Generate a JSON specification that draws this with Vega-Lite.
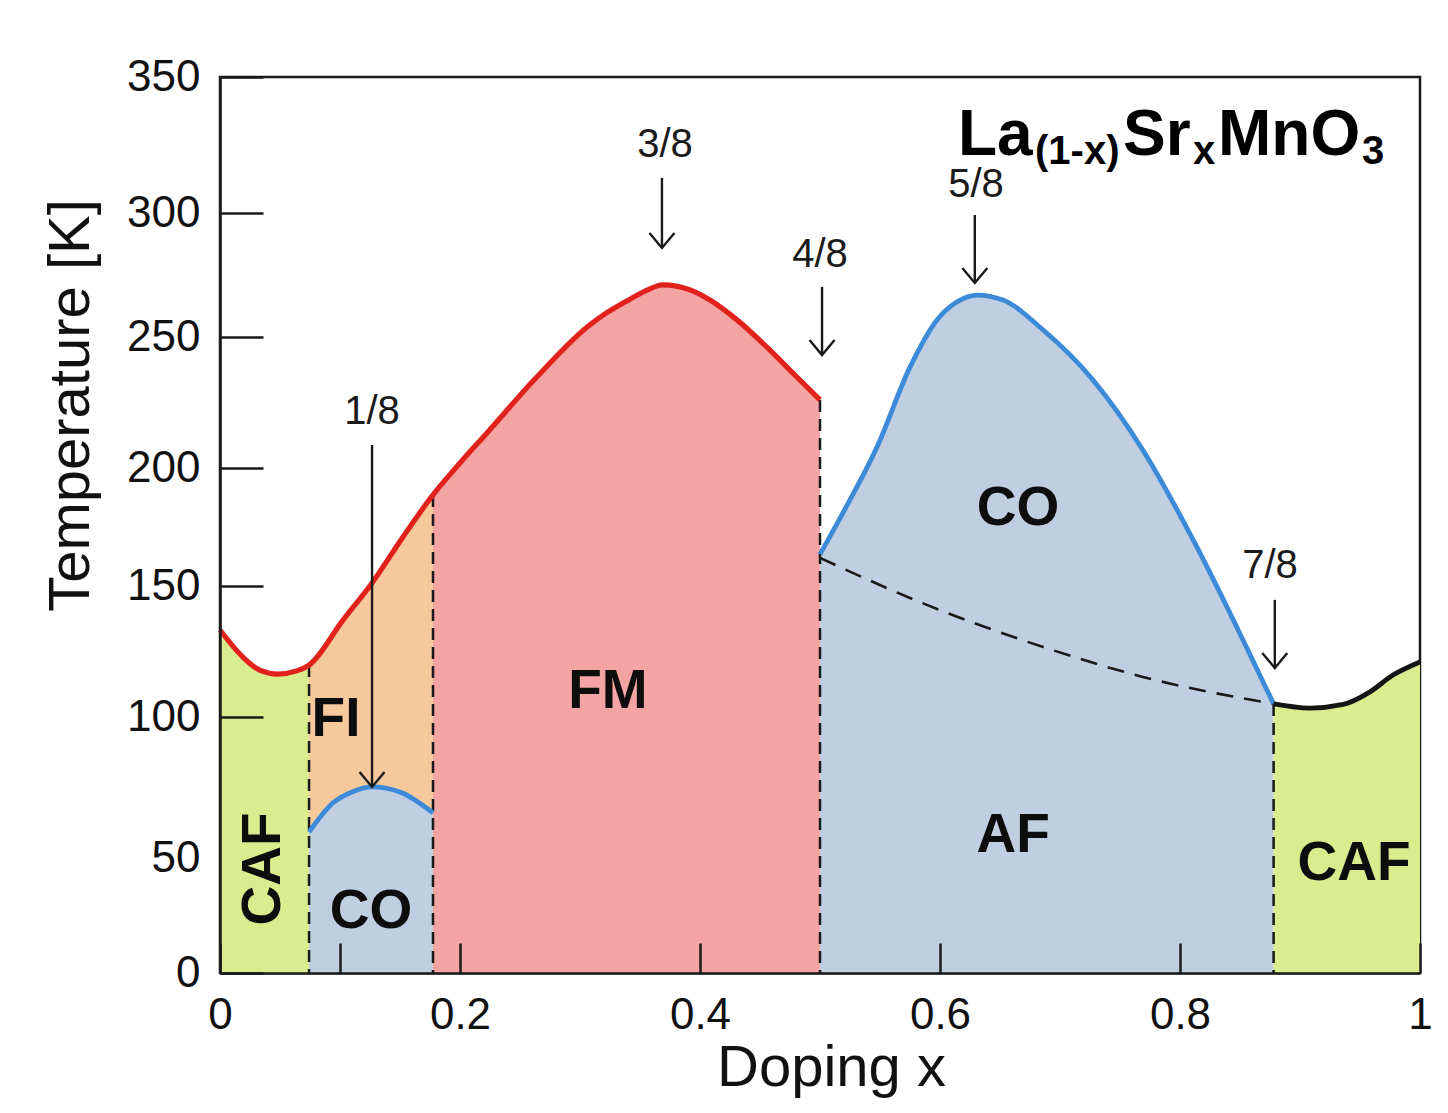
{
  "$schema": "https://vega.github.io/schema/vega-lite/v6.json",
  "width": 1200,
  "height": 896,
  "autosize": {"type": "none"},
  "padding": {"left": 220, "top": 77, "right": 28, "bottom": 140},
  "background": "white",
  "config": {
    "view": {"stroke": "#1a1a1a", "strokeWidth": 2.5},
    "font": "Liberation Sans"
  },
  "datasets": {
    "areas": [
      {"region": "CAF1", "x": 0, "t": 133.2},
      {"region": "CAF1", "x": 0.019, "t": 122.9},
      {"region": "CAF1", "x": 0.033, "t": 117.9},
      {"region": "CAF1", "x": 0.048, "t": 116.4},
      {"region": "CAF1", "x": 0.064, "t": 117.6},
      {"region": "CAF1", "x": 0.0742, "t": 119.8},
      {"region": "FI", "x": 0.0742, "t": 119.8},
      {"region": "FI", "x": 0.1025, "t": 137.0},
      {"region": "FI", "x": 0.1267, "t": 151.3},
      {"region": "FI", "x": 0.1525, "t": 170.8},
      {"region": "FI", "x": 0.1775, "t": 188.6},
      {"region": "FM", "x": 0.1775, "t": 188.6},
      {"region": "FM", "x": 0.2, "t": 201.9},
      {"region": "FM", "x": 0.2225, "t": 213.4},
      {"region": "FM", "x": 0.264, "t": 234.7},
      {"region": "FM", "x": 0.306, "t": 254.0},
      {"region": "FM", "x": 0.3208, "t": 259.3},
      {"region": "FM", "x": 0.3375, "t": 264.1},
      {"region": "FM", "x": 0.3542, "t": 268.5},
      {"region": "FM", "x": 0.369, "t": 271.0},
      {"region": "FM", "x": 0.3917, "t": 269.0},
      {"region": "FM", "x": 0.4083, "t": 264.9},
      {"region": "FM", "x": 0.4308, "t": 256.9},
      {"region": "FM", "x": 0.4583, "t": 245.0},
      {"region": "FM", "x": 0.479, "t": 235.5},
      {"region": "FM", "x": 0.5, "t": 226.0},
      {"region": "COL", "x": 0.0742, "t": 59.2},
      {"region": "COL", "x": 0.094, "t": 69.5},
      {"region": "COL", "x": 0.11, "t": 73.4},
      {"region": "COL", "x": 0.1267, "t": 75.2},
      {"region": "COL", "x": 0.15, "t": 73.4},
      {"region": "COL", "x": 0.1775, "t": 66.0},
      {"region": "COR", "x": 0.5, "t": 163.5},
      {"region": "COR", "x": 0.519, "t": 180.9},
      {"region": "COR", "x": 0.5475, "t": 208.0},
      {"region": "COR", "x": 0.575, "t": 238.5},
      {"region": "COR", "x": 0.5975, "t": 256.9},
      {"region": "COR", "x": 0.614, "t": 264.1},
      {"region": "COR", "x": 0.631, "t": 266.9},
      {"region": "COR", "x": 0.6525, "t": 264.9},
      {"region": "COR", "x": 0.686, "t": 252.8},
      {"region": "COR", "x": 0.7275, "t": 233.6},
      {"region": "COR", "x": 0.769, "t": 206.9},
      {"region": "COR", "x": 0.811, "t": 169.5},
      {"region": "COR", "x": 0.8525, "t": 129.4},
      {"region": "COR", "x": 0.878, "t": 105.0},
      {"region": "CAF2", "x": 0.878, "t": 105.0},
      {"region": "CAF2", "x": 0.908, "t": 103.4},
      {"region": "CAF2", "x": 0.936, "t": 104.8},
      {"region": "CAF2", "x": 0.958, "t": 109.5},
      {"region": "CAF2", "x": 0.9775, "t": 116.0},
      {"region": "CAF2", "x": 1.0, "t": 121.0}
    ],
    "red": [
      {"x": 0, "t": 133.2},
      {"x": 0.019, "t": 122.9},
      {"x": 0.033, "t": 117.9},
      {"x": 0.048, "t": 116.4},
      {"x": 0.064, "t": 117.6},
      {"x": 0.0742, "t": 119.8},
      {"x": 0.1025, "t": 137.0},
      {"x": 0.1267, "t": 151.3},
      {"x": 0.1525, "t": 170.8},
      {"x": 0.1775, "t": 188.6},
      {"x": 0.2, "t": 201.9},
      {"x": 0.2225, "t": 213.4},
      {"x": 0.264, "t": 234.7},
      {"x": 0.306, "t": 254.0},
      {"x": 0.3208, "t": 259.3},
      {"x": 0.3375, "t": 264.1},
      {"x": 0.3542, "t": 268.5},
      {"x": 0.369, "t": 271.0},
      {"x": 0.3917, "t": 269.0},
      {"x": 0.4083, "t": 264.9},
      {"x": 0.4308, "t": 256.9},
      {"x": 0.4583, "t": 245.0},
      {"x": 0.479, "t": 235.5},
      {"x": 0.5, "t": 226.0}
    ],
    "blue": [
      {"seg": "L", "x": 0.0742, "t": 59.2},
      {"seg": "L", "x": 0.094, "t": 69.5},
      {"seg": "L", "x": 0.11, "t": 73.4},
      {"seg": "L", "x": 0.1267, "t": 75.2},
      {"seg": "L", "x": 0.15, "t": 73.4},
      {"seg": "L", "x": 0.1775, "t": 66.0},
      {"seg": "R", "x": 0.5, "t": 163.5},
      {"seg": "R", "x": 0.519, "t": 180.9},
      {"seg": "R", "x": 0.5475, "t": 208.0},
      {"seg": "R", "x": 0.575, "t": 238.5},
      {"seg": "R", "x": 0.5975, "t": 256.9},
      {"seg": "R", "x": 0.614, "t": 264.1},
      {"seg": "R", "x": 0.631, "t": 266.9},
      {"seg": "R", "x": 0.6525, "t": 264.9},
      {"seg": "R", "x": 0.686, "t": 252.8},
      {"seg": "R", "x": 0.7275, "t": 233.6},
      {"seg": "R", "x": 0.769, "t": 206.9},
      {"seg": "R", "x": 0.811, "t": 169.5},
      {"seg": "R", "x": 0.8525, "t": 129.4},
      {"seg": "R", "x": 0.878, "t": 105.0}
    ],
    "black": [
      {"x": 0.878, "t": 105.0},
      {"x": 0.908, "t": 103.4},
      {"x": 0.936, "t": 104.8},
      {"x": 0.958, "t": 109.5},
      {"x": 0.9775, "t": 116.0},
      {"x": 1.0, "t": 121.0}
    ],
    "dash": [
      {"x": 0.5, "t": 161.9},
      {"x": 0.589, "t": 142.8},
      {"x": 0.686, "t": 126.7},
      {"x": 0.769, "t": 115.3},
      {"x": 0.878, "t": 105.0}
    ],
    "vdash": [
      {"x": 0.0742, "t": 119.8},
      {"x": 0.1775, "t": 188.6},
      {"x": 0.5, "t": 226.0},
      {"x": 0.878, "t": 105.0}
    ],
    "arrows": [
      {"lab": "1/8", "x": 0.1267, "t": 75.2, "top": 208.8},
      {"lab": "3/8", "x": 0.3683, "t": 285.9, "top": 312.9},
      {"lab": "4/8", "x": 0.5017, "t": 243.1, "top": 270.2},
      {"lab": "5/8", "x": 0.629, "t": 271.8, "top": 299.2},
      {"lab": "7/8", "x": 0.879, "t": 118.7, "top": 144.7}
    ],
    "fractions": [
      {"lab": "1/8", "x": 0.1267, "t": 221.4},
      {"lab": "3/8", "x": 0.3708, "t": 325.0},
      {"lab": "4/8", "x": 0.5, "t": 283.1},
      {"lab": "5/8", "x": 0.63, "t": 310.2},
      {"lab": "7/8", "x": 0.875, "t": 158.5}
    ],
    "labels": [
      {"lab": "FI", "x": 0.0967, "t": 99.4},
      {"lab": "CO", "x": 0.1258, "t": 27.0},
      {"lab": "FM", "x": 0.3233, "t": 110.0},
      {"lab": "CO", "x": 0.665, "t": 183.0},
      {"lab": "AF", "x": 0.661, "t": 58.0},
      {"lab": "CAF", "x": 0.945, "t": 47.8}
    ],
    "vlabels": [
      {"lab": "CAF", "x": 0.0358, "t": 45.2}
    ],
    "formulaMain": [
      {"s": "La", "x": 0.615, "t": 321.3},
      {"s": "Sr", "x": 0.7525, "t": 321.3},
      {"s": "MnO", "x": 0.8317, "t": 321.3}
    ],
    "formulaSub": [
      {"s": "(1-x)", "x": 0.6792, "t": 318.0},
      {"s": "x", "x": 0.8108, "t": 318.0},
      {"s": "3", "x": 0.9517, "t": 318.0}
    ]
  },
  "encoding": {
    "x": {
      "field": "x",
      "type": "quantitative",
      "scale": {"domain": [0, 1], "nice": false, "zero": false},
      "axis": {
        "title": "Doping x",
        "values": [0, 0.1, 0.2, 0.4, 0.6, 0.8, 1],
        "labelExpr": "datum.value == 0.1 ? '' : format(datum.value, '~g')",
        "grid": false,
        "tickSize": -30,
        "tickWidth": 2.5,
        "tickColor": "#1a1a1a",
        "domainColor": "#1a1a1a",
        "domainWidth": 2.5,
        "labelFont": "Liberation Sans",
        "labelFontSize": 44,
        "labelColor": "#111111",
        "labelPadding": 50,
        "labelFlush": false,
        "labelOverlap": false,
        "titleFont": "Liberation Sans",
        "titleFontSize": 58,
        "titleFontWeight": "normal",
        "titleColor": "#111111",
        "titleX": 611,
        "titleY": 112,
        "titleAlign": "center",
        "titleBaseline": "alphabetic",
        "zindex": 1
      }
    },
    "y": {
      "field": "t",
      "type": "quantitative",
      "scale": {
        "domain": [0, 50, 100, 150, 200, 250, 300, 350],
        "range": [896, 781, 640, 509, 391, 260, 136, 0],
        "nice": false,
        "zero": false
      },
      "axis": {
        "title": "Temperature [K]",
        "values": [0, 50, 100, 150, 200, 250, 300, 350],
        "grid": false,
        "tickSize": -43,
        "tickWidth": 2.5,
        "tickColor": "#1a1a1a",
        "tickOpacity": {"condition": {"test": "datum.value === 50", "value": 0}, "value": 1},
        "domainColor": "#1a1a1a",
        "domainWidth": 2.5,
        "labelFont": "Liberation Sans",
        "labelFontSize": 44,
        "labelColor": "#111111",
        "labelPadding": 63,
        "labelFlush": false,
        "labelOverlap": false,
        "titleFont": "Liberation Sans",
        "titleFontSize": 58,
        "titleFontWeight": "normal",
        "titleColor": "#111111",
        "titleX": -132,
        "titleY": 328,
        "titleAngle": 270,
        "titleAlign": "center",
        "titleBaseline": "alphabetic",
        "zindex": 1
      }
    }
  },
  "layer": [
    {
      "data": {"name": "areas"},
      "transform": [{"filter": "datum.region == 'CAF1'"}],
      "mark": {"type": "area", "interpolate": "monotone", "color": "#d9ec8e", "opacity": 1},
      "encoding": {"y2": {"datum": 0}}
    },
    {
      "data": {"name": "areas"},
      "transform": [{"filter": "datum.region == 'FI'"}],
      "mark": {"type": "area", "interpolate": "monotone", "color": "#f6c99d", "opacity": 1},
      "encoding": {"y2": {"datum": 0}}
    },
    {
      "data": {"name": "areas"},
      "transform": [{"filter": "datum.region == 'FM'"}],
      "mark": {"type": "area", "interpolate": "monotone", "color": "#f5a4a4", "opacity": 1},
      "encoding": {"y2": {"datum": 0}}
    },
    {
      "data": {"name": "areas"},
      "transform": [{"filter": "datum.region == 'COL'"}],
      "mark": {"type": "area", "interpolate": "monotone", "color": "#bfcee1", "opacity": 1},
      "encoding": {"y2": {"datum": 0}}
    },
    {
      "data": {"name": "areas"},
      "transform": [{"filter": "datum.region == 'COR'"}],
      "mark": {"type": "area", "interpolate": "monotone", "color": "#bfcee1", "opacity": 1},
      "encoding": {"y2": {"datum": 0}}
    },
    {
      "data": {"name": "areas"},
      "transform": [{"filter": "datum.region == 'CAF2'"}],
      "mark": {"type": "area", "interpolate": "monotone", "color": "#d9ec8e", "opacity": 1},
      "encoding": {"y2": {"datum": 0}}
    },
    {
      "data": {"name": "vdash"},
      "mark": {"type": "rule", "color": "#1a1a1a", "strokeWidth": 2.5, "strokeDash": [12, 7]},
      "encoding": {"y2": {"datum": 0}}
    },
    {
      "data": {"name": "dash"},
      "mark": {"type": "line", "interpolate": "monotone", "color": "#1a1a1a", "strokeWidth": 2.6, "strokeDash": [17, 11]},
      "encoding": {}
    },
    {
      "data": {"name": "red"},
      "mark": {"type": "line", "interpolate": "monotone", "color": "#e0211c", "strokeWidth": 5.2},
      "encoding": {}
    },
    {
      "data": {"name": "blue"},
      "mark": {"type": "line", "interpolate": "monotone", "color": "#3d8ad8", "strokeWidth": 4.8},
      "encoding": {"detail": {"field": "seg", "type": "nominal"}}
    },
    {
      "data": {"name": "black"},
      "mark": {"type": "line", "interpolate": "monotone", "color": "#151515", "strokeWidth": 4.8},
      "encoding": {}
    },
    {
      "data": {"name": "arrows"},
      "mark": {"type": "rule", "color": "#1a1a1a", "strokeWidth": 2.4},
      "encoding": {"y2": {"field": "top"}}
    },
    {
      "data": {"name": "arrows"},
      "mark": {"type": "point", "shape": "M-1,-1.2L0,0L1,-1.2", "filled": false, "stroke": "#1a1a1a", "strokeWidth": 2.4, "size": 625, "opacity": 1},
      "encoding": {}
    },
    {
      "data": {"name": "fractions"},
      "mark": {"type": "text", "font": "Liberation Sans", "fontSize": 40, "color": "#1a1a1a", "align": "center", "baseline": "middle"},
      "encoding": {"text": {"field": "lab"}}
    },
    {
      "data": {"name": "labels"},
      "mark": {"type": "text", "font": "Liberation Sans", "fontSize": 55, "fontWeight": "bold", "color": "#0d0d0d", "align": "center", "baseline": "middle"},
      "encoding": {"text": {"field": "lab"}}
    },
    {
      "data": {"name": "vlabels"},
      "mark": {"type": "text", "font": "Liberation Sans", "fontSize": 55, "fontWeight": "bold", "color": "#0d0d0d", "align": "center", "baseline": "middle", "angle": 270},
      "encoding": {"text": {"field": "lab"}}
    },
    {
      "data": {"name": "formulaMain"},
      "mark": {"type": "text", "font": "Liberation Sans", "fontSize": 64, "fontWeight": "bold", "color": "#000000", "align": "left", "baseline": "alphabetic"},
      "encoding": {"text": {"field": "s"}}
    },
    {
      "data": {"name": "formulaSub"},
      "mark": {"type": "text", "font": "Liberation Sans", "fontSize": 40, "fontWeight": "bold", "color": "#000000", "align": "left", "baseline": "alphabetic"},
      "encoding": {"text": {"field": "s"}}
    }
  ]
}
